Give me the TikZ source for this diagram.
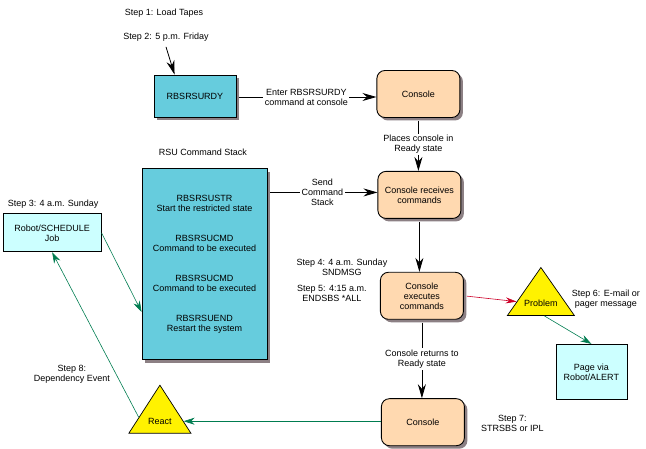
\documentclass[tikz,border=0pt]{standalone}
\usepackage{fontspec}
\setmainfont{Liberation Sans}
\usetikzlibrary{shapes.geometric,arrows.meta,positioning,calc,shadows}
\definecolor{stackblue}{RGB}{102,204,221}
\definecolor{consolepeach}{RGB}{255,217,176}
\definecolor{palecyan}{RGB}{204,255,255}
\definecolor{shadowgray}{RGB}{140,128,132}
\definecolor{flowgreen}{RGB}{0,124,80}
\definecolor{flowred}{RGB}{204,0,40}

\begin{document}
\begin{tikzpicture}[
    x=1pt, y=1pt,
    font=\fontsize{9}{10}\selectfont,
    shade/.style={drop shadow={shadow xshift=3pt, shadow yshift=-3pt, fill=shadowgray, opacity=1}},
    box/.style={rectangle, draw, line width=0.9pt, align=center},
    job/.style={box, fill=stackblue, shade},
    console/.style={box, fill=consolepeach, rounded corners=8pt, shade, minimum width=83pt, minimum height=47pt},
    alert/.style={box, fill=palecyan, line width=0.8pt},
    warn/.style={isosceles triangle, isosceles triangle stretches, shape border rotate=90, draw, line width=0.7pt, fill=yellow, inner sep=0pt},
    note/.style={align=center, inner sep=0pt},
    gaplabel/.style={note, fill=white, inner sep=1.5pt},
    flow/.style={-{Stealth[length=14pt,width=8pt]}, line width=0.8pt, shorten <=3pt},
    greenflow/.style={-{Stealth[length=11pt,width=7pt]}, flowgreen, line width=0.6pt},
    redflow/.style={-{Stealth[length=11pt,width=6pt]}, flowred, line width=0.6pt}
]
    \useasboundingbox (0,0) rectangle (646,-449);

    % Console column
    \node[job, minimum width=82pt, minimum height=42pt] (rdy) at (195,-96) {RBSRSURDY};
    \node[console, right=140pt of rdy, yshift=2pt] (consoleA) {Console};
    \node[console, below=53pt of consoleA, xshift=1pt] (recv) {Console receives\\commands};
    \node[console, below=53pt of recv, xshift=2.5pt] (exec) {Console\\executes\\commands};
    \node[console, below=78.5pt of exec, xshift=1pt] (consoleB) {Console};

    % Command stack
    \node[job, minimum width=125pt, minimum height=191pt, below=51pt of rdy, xshift=9.5pt] (stack)
        {RBSRSUSTR\\Start the restricted state\\[20pt]
         RBSRSUCMD\\Command to be executed\\[20pt]
         RBSRSUCMD\\Command to be executed\\[20pt]
         RBSRSUEND\\Restart the system};
    \node[alert, minimum width=98pt, minimum height=38pt, left=40pt of stack, yshift=31.5pt] (robot) {Robot/SCHEDULE\\Job};

    % Triangles
    \node[warn, minimum width=67pt, minimum height=48pt] (problem) at ($(exec)+(119,-11)$) {\raisebox{0.5pt}[0pt][0pt]{Problem}};
    \node[warn, minimum width=62pt, minimum height=48pt] (react) at ($(consoleB)+(-263,-0.5)$) {\raisebox{-2pt}[0pt][0pt]{React}};
    \node[alert, minimum width=71pt, minimum height=55pt] (page) at ($(exec)+(169.5,-76)$) {Page via\\Robot/ALERT};

    % Steps
    \node[note] (step2) at ($(rdy)+(-29,58.5)$) {Step 2: 5 p.m. Friday};
    \node[note] (step1) at ($(step2)+(-2,24)$) {Step 1: Load Tapes};
    \node[note] (title) at ($(stack)+(-1.5,112)$) {RSU Command Stack};
    \node[note] (step3) at ($(robot)+(1,28.5)$) {Step 3: 4 a.m. Sunday};
    \node[note] (step4) at ($(exec)+(-80,28.5)$) {Step 4: 4 a.m. Sunday\\SNDMSG};
    \node[note] (step5) at ($(exec)+(-90,2.5)$) {Step 5: 4:15 a.m.\\ENDSBS *ALL};
    \node[note] (step6) at ($(exec)+(184,-3.5)$) {Step 6: E-mail or\\pager message};
    \node[note] (step7) at ($(consoleB)+(89.5,-1.5)$) {Step 7:\\STRSBS or IPL};
    \node[note] (step8) at ($(react)+(-88,48)$) {Step 8:\\Dependency Event};

    % Hit points on the triangles
    \coordinate (problemin) at ($(problem.left corner)!0.29!(problem.apex)$);
    \coordinate (problemout) at ($(problem.left corner)!0.55!(problem.right corner)$);
    \coordinate (reactin) at ($(react.right corner)!0.25!(react.apex)$);
    \coordinate (reactout) at ($(react.left corner)!0.33!(react.apex)$);

    % Edges
    \draw[flow] ([yshift=-1pt]rdy.east) -- node[gaplabel] {Enter RBSRSURDY\\command at console} ([yshift=-1pt]rdy.east -| consoleA.west);
    \draw[flow] (consoleA.south) -- node[gaplabel] {Places console in\\Ready state} (consoleA.south |- recv.north);
    \draw[flow] ([yshift=-24pt]stack.north east) -- node[gaplabel] {Send\\Command\\Stack} ([yshift=-24pt]stack.north east -| recv.west);
    \draw[flow] (recv.south) -- (recv.south |- exec.north);
    \draw[flow] (exec.south) -- node[gaplabel] {Console returns to\\Ready state} (exec.south |- consoleB.north);
    \draw[flow, shorten <=0pt] ([yshift=-5pt]step2.south) -- ([xshift=21pt]rdy.north west);
    \draw[redflow, shorten <=3pt] (exec.east) -- (problemin);
    \draw[greenflow] (problemout) -- (page.north);
    \draw[greenflow] (robot.east) -- ([yshift=-47.5pt]stack.west);
    \draw[greenflow] (reactout) -- (robot.south);
    \draw[greenflow] (consoleB.west |- reactin) -- (reactin);
\end{tikzpicture}
\end{document}
